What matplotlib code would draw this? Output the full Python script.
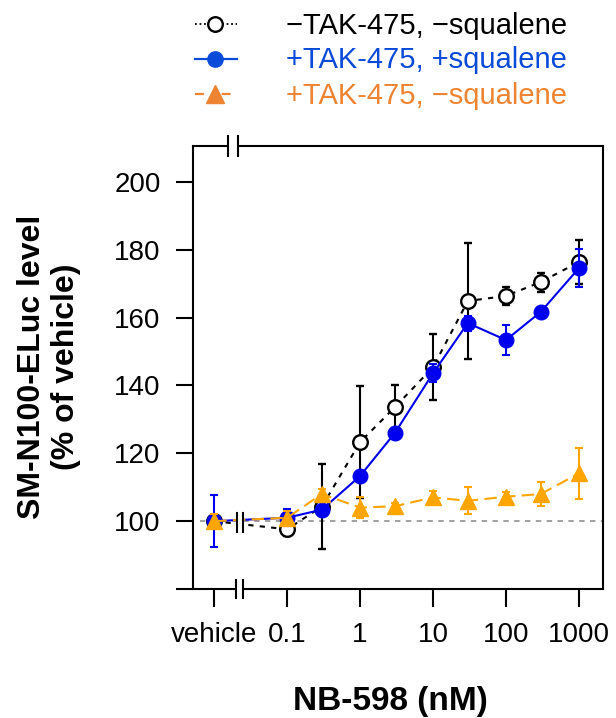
import numpy as np
import matplotlib
matplotlib.use("Agg")
import matplotlib.pyplot as plt
from matplotlib.lines import Line2D
from matplotlib.patches import Rectangle
from matplotlib.transforms import blended_transform_factory

plt.rcParams['font.family'] = ['Liberation Sans', 'DejaVu Sans']

# ---- data ----
x_labels = ["vehicle", "0.1", "1", "10", "100", "1000"]
x_tick_pos = [-2, -1, 0, 1, 2, 3]          # log10 positions (vehicle placed at -2)
conc_pos = [-2, -1, np.log10(0.3), 0, np.log10(3), 1, np.log10(30), 2, np.log10(300), 3]

ctrl_mean = [100, 97.6, 104.3, 123.3, 133.6, 145.4, 164.9, 166.4, 170.5, 176.4]
ctrl_err = [1.5, 2.0, 12.5, 16.5, 6.5, 9.7, 17.0, 2.7, 2.8, 6.5]

sq_mean = [100, 101.0, 103.4, 113.3, 126.0, 143.6, 158.4, 153.4, 161.7, 174.6]
sq_err = [7.7, 2.5, 1.5, 1.5, 1.5, 2.6, 2.2, 4.3, 1.5, 5.5]

tak_mean = [100, 101.0, 108.0, 104.0, 104.4, 107.0, 106.0, 107.2, 108.0, 114.1]
tak_err = [2.0, 2.0, 1.5, 3.0, 1.0, 1.8, 4.0, 1.5, 3.5, 7.5]

legend_labels = ["\u2212TAK-475, \u2212squalene", "+TAK-475, +squalene", "+TAK-475, \u2212squalene"]

y_ticks = [80, 100, 120, 140, 160, 180, 200]
y_ticklabels = ["", "100", "120", "140", "160", "180", "200"]

W, H = 616, 718
fig = plt.figure(figsize=(W/100, H/100), dpi=100)
ax = fig.add_axes([193/W, 1-589/H, (603-193)/W, (589-146)/H])
ax.set_xlim(-2.29, 3.33)
ax.set_ylim(80, 210.6)

blue = "#0000ee"
orange = "#ffa500"
lw = 1.5

# reference line
ax.plot([-2.19, 3.33], [100, 100], color="#999999", lw=1.3, ls=(0, (3, 3)), zorder=1)

ax.errorbar(conc_pos, ctrl_mean, yerr=ctrl_err, color="black", lw=lw, ls=(0, (2.5, 3)),
            marker="o", ms=10.5, mfc="white", mec="black", mew=1.7,
            ecolor="black", elinewidth=lw, capsize=3, capthick=lw, zorder=3)
ax.errorbar(conc_pos, sq_mean, yerr=sq_err, color=blue, lw=lw, ls="-",
            marker="o", ms=10.5, mfc=blue, mec=blue,
            ecolor=blue, elinewidth=lw, capsize=3, capthick=lw, zorder=4)
ax.errorbar(conc_pos, tak_mean, yerr=tak_err, color=orange, lw=lw, ls=(0, (6, 3)),
            marker="^", ms=12, mfc=orange, mec=orange,
            ecolor=orange, elinewidth=lw, capsize=3, capthick=lw, zorder=5)

# ticks
ax.set_xticks(x_tick_pos)
ax.set_xticklabels(x_labels)
ax.set_yticks(y_ticks)
ax.set_yticklabels(y_ticklabels)
ax.tick_params(axis="x", direction="out", length=13, width=1.5, labelsize=20, pad=11)
ax.tick_params(axis="y", direction="out", length=12.3, width=1.5, labelsize=20, pad=11)
for s in ax.spines.values():
    s.set_linewidth(1.5)

# axis break symbols
tr = blended_transform_factory(ax.transData, ax.transAxes)
def brk(xc, yc, w, h, trans):
    ax.add_patch(Rectangle((xc - w/2, yc - h/2), w, h, transform=trans, facecolor="white",
                           edgecolor="none", clip_on=False, zorder=10))
    for xx in (xc - w/2, xc + w/2):
        ax.add_line(Line2D([xx, xx], [yc - h/2, yc + h/2], transform=trans,
                           color="black", lw=1.5, clip_on=False, zorder=11))

brk(-1.74, 1.0, 0.13, 0.043, tr)
brk(-1.65, 0.0, 0.096, 0.041, tr)
brk(-1.644, 99.6, 0.082, 5.6, ax.transData)

# axis labels
fig.text(390/W, 1 - 710/H, "NB-598 (nM)", fontsize=24, fontweight="bold",
         ha="center", va="baseline")
fig.text(49/W, 1 - 367/H, "SM-N100-ELuc level\n(% of vehicle)", fontsize=23,
         fontweight="bold", ha="center", va="center", rotation=90,
         linespacing=1.2, multialignment="center")

# legend (manual)
def P(px, py):
    return px / W, 1 - py / H

leg_colors = ["black", "#0a4ad8", "#ee8432"]
rows_c = [23.5, 58.5, 94]
rows_b = [33.5, 68.5, 103.5]
styles = [dict(ls=(0, (1, 1.5)), lw=1.3, marker="o", ms=10.5, mfc="white", mew=1.7),
          dict(ls="-", lw=1.6, marker="o", ms=11, mfc=leg_colors[1], mew=1),
          dict(ls=(0, (4, 8)), lw=1.6, marker="^", ms=13, mfc=leg_colors[2], mew=1)]
for i in range(3):
    x0, y0 = P(195, rows_c[i])
    x1, _ = P(237, rows_c[i])
    st = styles[i]
    fig.add_artist(Line2D([x0, x1], [y0, y0], color=leg_colors[i], ls=st["ls"], lw=st["lw"],
                          transform=fig.transFigure))
    xm, ym = P(215, rows_c[i])
    fig.add_artist(Line2D([xm], [ym], color=leg_colors[i], ls="none", marker=st["marker"],
                          ms=st["ms"], mfc=st["mfc"], mec=leg_colors[i], mew=st["mew"],
                          transform=fig.transFigure))
    tx, ty = P(286, rows_b[i])
    fig.text(tx, ty, legend_labels[i], fontsize=21, color=leg_colors[i],
             ha="left", va="baseline")

fig.savefig("out.png", dpi=100)
